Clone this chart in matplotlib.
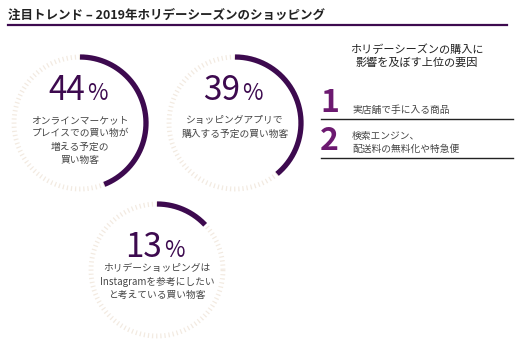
import numpy as np
import matplotlib.pyplot as plt

plt.rcParams['font.family'] = ['Noto Sans CJK JP', 'DejaVu Sans']

# データ
percents = [44, 39, 13]
labels = ['オンラインマーケット\nプレイスでの買い物が\n増える予定の\n買い物客',
          'ショッピングアプリで\n購入する予定の買い物客',
          'ホリデーショッピングは\nInstagramを参考にしたい\nと考えている買い物客']
factor_ranks = ['1', '2']
factor_texts = ['実店舗で手に入る商品', '検索エンジン、\n配送料の無料化や特急便']

title = '注目トレンド – 2019年ホリデーシーズンのショッピング'
side_title = 'ホリデーシーズンの購入に\n影響を及ぼす上位の要因'

# レイアウト (ピクセル座標)
centers = [(80, 123), (235, 123), (157, 270)]
num_base = [100, 100, 257]
desc_top = [115, 115, 263]
radius = 66
arc_col = '#3d0a4f'
ring_col = '#e8d9c8'
num_col = '#6c1a70'
txt_col = '#454545'

fig = plt.figure(figsize=(5.29, 3.52), dpi=100)
ax = fig.add_axes([0, 0, 1, 1])
ax.set_xlim(0, 529)
ax.set_ylim(352, 0)
ax.axis('off')

# タイトル
ax.text(8, 15, title, fontsize=9, fontweight='bold', color='#222222', va='center')
ax.plot([8, 507], [25, 25], color=arc_col, lw=1.6)

for (cx, cy), p, lab, nb, dt in zip(centers, percents, labels, num_base, desc_top):
    t = np.linspace(0, 2 * np.pi, 400)
    ax.plot(cx + radius * np.cos(t), cy + radius * np.sin(t),
            color=ring_col, lw=3.5, ls=(0, (0.25, 0.6)), alpha=0.55)
    # 上から時計回り
    t2 = np.linspace(0, 2 * np.pi * p / 100, 200)
    ax.plot(cx + radius * np.sin(t2), cy - radius * np.cos(t2),
            color=arc_col, lw=3.8, solid_capstyle='butt')
    ax.text(cx + 5, nb, str(p), fontsize=24, color=arc_col,
            ha='right', va='baseline')
    ax.text(cx + 7, nb, '%', fontsize=16, color=arc_col,
            ha='left', va='baseline')
    ax.text(cx, dt, lab, fontsize=7, color=txt_col, ha='center',
            va='top', linespacing=1.42)

# 右側の要因
ax.text(417, 56, side_title, fontsize=8, color='#222222', ha='center',
        va='center', linespacing=1.3)
rank_y = [112, 150]
line_y = [119, 158]
text_y = [110, 142]
for r, ft, ry, ly, ty in zip(factor_ranks, factor_texts, rank_y, line_y, text_y):
    ax.text(320, ry, r, fontsize=23, fontweight='bold', color=num_col,
            ha='left', va='baseline')
    ax.text(352, ty, ft, fontsize=7, color=txt_col, ha='left', va='center',
            linespacing=1.35)
    ax.plot([321, 513], [ly, ly], color='#222222', lw=1)

fig.savefig('out.png', dpi=100)
